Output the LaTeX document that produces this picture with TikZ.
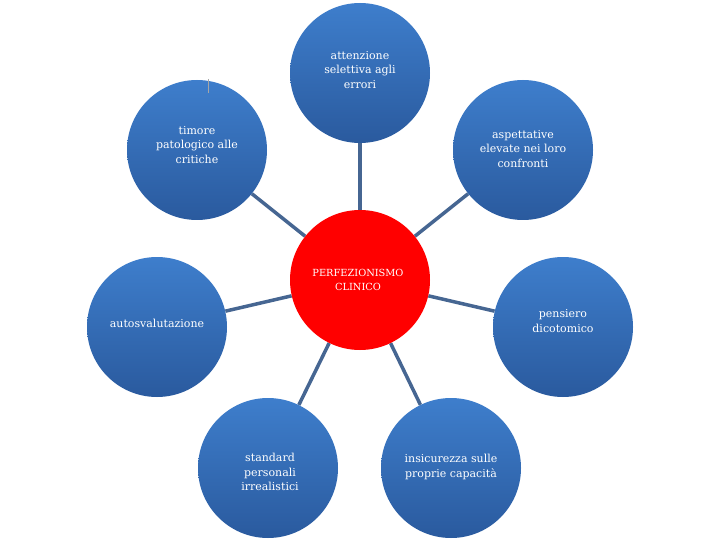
\documentclass[tikz,border=0pt]{standalone}
\usepackage{fontspec}
\setmainfont{DejaVu Serif}
\usetikzlibrary{backgrounds}
\definecolor{bubtop}{RGB}{62,126,204}
\definecolor{bubbot}{RGB}{42,90,158}
\definecolor{linkc}{RGB}{70,102,146}
\begin{document}
\begin{tikzpicture}[x=1pt,y=-1pt,
  bub/.style={circle, minimum size=140pt, inner sep=0pt, top color=bubtop, bottom color=bubbot, draw=none},
  core/.style={circle, minimum size=140pt, inner sep=0pt, fill={rgb,255:red,255;green,0;blue,0}, draw=none},
  lbl/.style={text=white, align=center, inner sep=0pt, font=\fontsize{11}{14.5}\selectfont},
  corelbl/.style={lbl, font=\fontsize{9.8}{14.5}\selectfont},
  link/.style={draw=linkc, line width=3.5pt}]
\useasboundingbox (0,0) rectangle (720,540);
% circles
\node[core] (c) at (360,280) {};
\node[bub] (t) at (360,73) {};
\node[bub] (tl) at (197,150) {};
\node[bub] (tr) at (523,150) {};
\node[bub] (l) at (157,327) {};
\node[bub] (r) at (563,327) {};
\node[bub] (bl) at (268,468) {};
\node[bub] (br) at (451,468) {};
% connectors
\begin{scope}[on background layer]
\foreach \n in {t,tl,tr,l,r,bl,br}{
  \draw[link] (c) -- (\n);
}
\end{scope}
% small mark
\coordinate (m1) at (208,79);
\coordinate (m2) at (208,93);
\draw[gray!70, line width=0.8pt] (m1) -- (m2);
% labels
\node[lbl] (tx) at (360,70) {attenzione\\selettiva agli\\errori};
\node[lbl] (tlx) at (197,145) {timore\\patologico alle\\critiche};
\node[lbl] (trx) at (523,149) {aspettative\\elevate nei loro\\confronti};
\node[lbl] (lx) at (157,323) {autosvalutazione};
\node[lbl] (rx) at (563,321) {pensiero\\dicotomico};
\node[lbl] (blx) at (270,472) {standard\\personali\\irrealistici};
\node[lbl] (brx) at (451,467) {insicurezza sulle\\proprie capacità};
\node[corelbl] (cx) at (358,280) {PERFEZIONISMO\\CLINICO};
\end{tikzpicture}
\end{document}
